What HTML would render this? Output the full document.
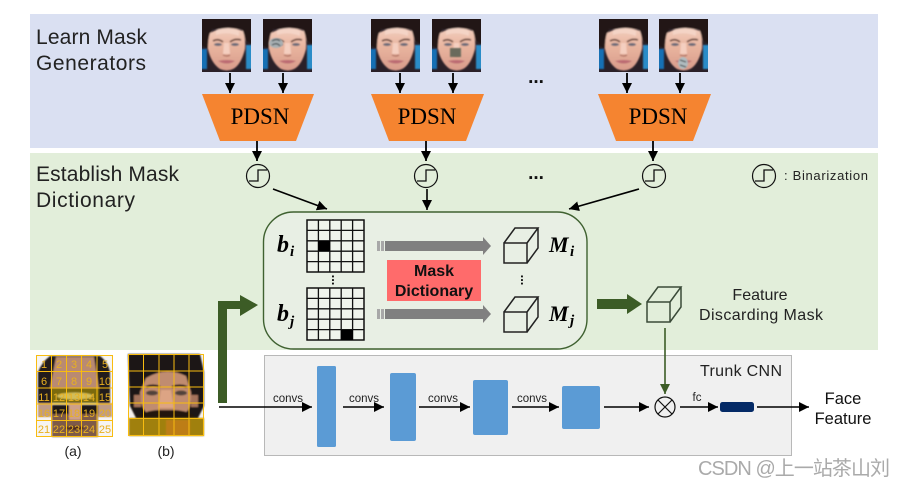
<!DOCTYPE html>
<html><head><meta charset="utf-8">
<style>
html,body{margin:0;padding:0;background:#fff;width:904px;height:487px;overflow:hidden}
svg{display:block}
text{font-family:"Liberation Sans",sans-serif}
.s{font-family:"Liberation Serif",serif}
</style></head><body>
<svg width="904" height="487" viewBox="0 0 904 487" xmlns="http://www.w3.org/2000/svg">
<defs>
<filter id="b1" x="-10%" y="-10%" width="120%" height="120%"><feGaussianBlur stdDeviation="0.9"/></filter>
<clipPath id="fc"><rect width="49" height="53"/></clipPath>
<linearGradient id="skin" x1="0" y1="0" x2="0" y2="1"><stop offset="0" stop-color="#f2cdbd"/><stop offset=".45" stop-color="#e8b49e"/><stop offset="1" stop-color="#d89a8a"/></linearGradient>
<marker id="ah" markerUnits="userSpaceOnUse" markerWidth="12" markerHeight="12" refX="10" refY="5" orient="auto"><path d="M0 0L10 5L0 10Z" fill="#000"/></marker>
<marker id="ag" markerUnits="userSpaceOnUse" markerWidth="12" markerHeight="12" refX="10" refY="5" orient="auto"><path d="M0 0L10 5L0 10Z" fill="#3c5c26"/></marker>
<symbol id="face" width="49" height="53" viewBox="0 0 49 53" overflow="hidden">
<g clip-path="url(#fc)">
<rect width="49" height="53" fill="#2a2028"/>
<g filter="url(#b1)">
<rect x="-2" y="30" width="7" height="20" fill="#1670b4"/>
<rect x="44" y="26" width="7" height="24" fill="#2a8cc8"/>
<path d="M-2 -2H51V26L44 22L40 10H10L6 30L-2 26Z" fill="#221816"/>
<path d="M8 14Q24 5 41 12Q44 20 43 30Q39 46 31 50Q25 53 18 50Q9 44 6 30Q6 20 8 14Z" fill="url(#skin)"/>
<path d="M14 11Q26 7 37 12L37 17Q25 12 14 16Z" fill="#f4d4c6"/>
<path d="M11 22Q16 19 21 23M28 23Q33 19 39 21" stroke="#6a463c" stroke-width="1.7" fill="none"/>
<ellipse cx="16" cy="25.5" rx="4" ry="1.5" fill="#6a6a78"/>
<ellipse cx="33" cy="25.5" rx="4" ry="1.5" fill="#6a6a78"/>
<path d="M22 24L21 35H28L27 24Z" fill="#f4cfc0"/>
<path d="M21 36Q25 38 28 36" stroke="#a86a5c" stroke-width="1.2" fill="none"/>
<path d="M16 42Q25 40 33 42Q25 47 16 42Z" fill="#bb6a72"/>
</g>
</g>
</symbol>
<g id="cube" fill="none" stroke-width="1.5">
<path d="M0 15H23V35H0ZM0 15L11 0H34L23 15M34 0V20L23 35"/>
</g>
<g id="bin">
<circle r="11.5" fill="none" stroke="#111" stroke-width="1.2"/>
<path d="M-9 5H0V-6H9" fill="none" stroke="#111" stroke-width="1.3"/>
</g>
<g id="grid" fill="none" stroke="#111" stroke-width="1.3">
<rect width="57" height="52" fill="#f0f4ec"/>
<path d="M11.4 0V52M22.8 0V52M34.2 0V52M45.6 0V52M0 10.4H57M0 20.8H57M0 31.2H57M0 41.6H57"/>
<rect width="57" height="52"/>
</g>
<g id="garrow">
<rect x="0" y="-5" width="3" height="10" fill="#a8a8a8"/>
<rect x="4" y="-5" width="3" height="10" fill="#a8a8a8"/>
<rect x="8" y="-5" width="98" height="10" fill="#808080"/>
<path d="M106 -9L114 0L106 9Z" fill="#808080"/>
</g>
</defs>

<rect x="30" y="14" width="848" height="134" fill="#dae0f2"/>
<rect x="30" y="153" width="848" height="197" fill="#e2eeda"/>

<text x="36" y="44" font-size="21" fill="#222" textLength="111">Learn Mask</text>
<text x="36" y="70" font-size="21" fill="#222" textLength="110">Generators</text>
<text x="36" y="181" font-size="21" fill="#222" textLength="143">Establish Mask</text>
<text x="36" y="207" font-size="21" fill="#222" textLength="99">Dictionary</text>

<use href="#face" x="202" y="19"/>
<use href="#face" x="263" y="19"/>
<use href="#face" x="371" y="19"/>
<use href="#face" x="432" y="19"/>
<use href="#face" x="599" y="19"/>
<use href="#face" x="659" y="19"/>
<g filter="url(#b1)">
<ellipse cx="276" cy="43" rx="7" ry="5" fill="#a8b0b4"/>
<path d="M272 41Q277 38 280 41M272 45Q277 42 280 46" stroke="#3a4448" stroke-width="1.2" fill="none"/>
<rect x="450" y="48" width="11" height="9" fill="#6a6a5c"/>
<ellipse cx="683" cy="63" rx="5" ry="6" fill="#b0bcc0"/>
<path d="M680 60L686 62M680 65L686 67" stroke="#333" stroke-width="1.1"/>
</g>

<g stroke="#000" stroke-width="1.8" marker-end="url(#ah)">
<line x1="230" y1="73" x2="230" y2="93"/>
<line x1="283" y1="73" x2="283" y2="93"/>
<line x1="400" y1="73" x2="400" y2="93"/>
<line x1="453" y1="73" x2="453" y2="93"/>
<line x1="627" y1="73" x2="627" y2="93"/>
<line x1="680" y1="73" x2="680" y2="93"/>
</g>

<path d="M202 94H314L296 141H220Z" fill="#f58430"/>
<path d="M371 94H484L466 141H389Z" fill="#f58430"/>
<path d="M598 94H711L693 141H616Z" fill="#f58430"/>
<text class="s" x="260" y="124" font-size="23" text-anchor="middle" fill="#000">PDSN</text>
<text class="s" x="427" y="124" font-size="23" text-anchor="middle" fill="#000">PDSN</text>
<text class="s" x="658" y="124" font-size="23" text-anchor="middle" fill="#000">PDSN</text>

<text x="536" y="83" font-size="19" font-weight="bold" text-anchor="middle" fill="#111">...</text>
<text x="536" y="179" font-size="19" font-weight="bold" text-anchor="middle" fill="#111">...</text>

<g stroke="#000" stroke-width="1.8" marker-end="url(#ah)">
<line x1="257" y1="141" x2="257" y2="161"/>
<line x1="426" y1="141" x2="426" y2="161"/>
<line x1="653" y1="141" x2="653" y2="161"/>
</g>

<use href="#bin" x="258" y="176"/>
<use href="#bin" x="426" y="176"/>
<use href="#bin" x="654" y="176"/>
<use href="#bin" x="764" y="176"/>
<text x="784" y="180" font-size="13" fill="#222" textLength="84">: Binarization</text>

<g stroke="#000" stroke-width="1.6" marker-end="url(#ah)">
<line x1="273" y1="189" x2="327" y2="209"/>
<line x1="427" y1="189" x2="427" y2="210"/>
<line x1="639" y1="189" x2="569" y2="209"/>
</g>

<rect x="263.5" y="212" width="323.5" height="137" rx="30" fill="#e8efe4" stroke="#3f6130" stroke-width="1.4"/>
<use href="#grid" x="307" y="220"/>
<rect x="318" y="241" width="12" height="10" fill="#000"/>
<use href="#grid" x="307" y="288"/>
<rect x="341" y="330" width="12" height="10" fill="#000"/>
<text x="335" y="283" font-size="13" font-weight="bold" text-anchor="middle" fill="#111" transform="rotate(90 335 280)">...</text>
<text x="524" y="283" font-size="13" font-weight="bold" text-anchor="middle" fill="#111" transform="rotate(90 524 280)">...</text>
<use href="#garrow" x="377" y="246"/>
<use href="#garrow" x="377" y="314"/>
<rect x="387" y="260" width="94" height="41" fill="#ff6b6b"/>
<text x="434" y="276" font-size="16" font-weight="bold" text-anchor="middle" fill="#111">Mask</text>
<text x="434" y="296" font-size="16" font-weight="bold" text-anchor="middle" fill="#111">Dictionary</text>
<use href="#cube" x="504" y="228" stroke="#222"/>
<use href="#cube" x="504" y="297" stroke="#222"/>
<g font-weight="bold" font-style="italic" fill="#000">
<text x="277" y="252" font-size="24" style="font-family:'Liberation Serif',serif">b</text>
<text x="290" y="256" font-size="15" style="font-family:'Liberation Serif',serif">i</text>
<text x="277" y="321" font-size="24" style="font-family:'Liberation Serif',serif">b</text>
<text x="290" y="326" font-size="15" style="font-family:'Liberation Serif',serif">j</text>
<text x="549" y="252" font-size="22" style="font-family:'Liberation Serif',serif">M</text>
<text x="570" y="256" font-size="15" style="font-family:'Liberation Serif',serif">i</text>
<text x="549" y="321" font-size="22" style="font-family:'Liberation Serif',serif">M</text>
<text x="570" y="325" font-size="15" style="font-family:'Liberation Serif',serif">j</text>
</g>

<path d="M597 299H627V294L642 304L627 314V309H597Z" fill="#3c5c26"/>
<use href="#cube" x="647" y="287" stroke="#3a4a38"/>
<text x="760" y="300" font-size="16" text-anchor="middle" fill="#222">Feature</text>
<text x="761" y="320" font-size="16" text-anchor="middle" fill="#222" textLength="124">Discarding Mask</text>

<rect x="264.5" y="355.5" width="527" height="100" fill="#f0f0f0" stroke="#b8b8b8" stroke-width="1"/>
<text x="700" y="376" font-size="16" fill="#222" textLength="82">Trunk CNN</text>
<path d="M218 403V301H240V295L258 305L240 316V309H227V403Z" fill="#3c5c26"/>

<rect x="317" y="366" width="19" height="81" rx="1.5" fill="#5b9bd5"/>
<rect x="390" y="373" width="26" height="68" rx="2" fill="#5b9bd5"/>
<rect x="473" y="380" width="35" height="55" rx="2" fill="#5b9bd5"/>
<rect x="562" y="386" width="38" height="43" rx="2" fill="#5b9bd5"/>
<g stroke="#000" stroke-width="1.5" marker-end="url(#ah)">
<line x1="219" y1="407" x2="312" y2="407"/>
<line x1="343" y1="407" x2="384" y2="407"/>
<line x1="419" y1="407" x2="470" y2="407"/>
<line x1="512" y1="407" x2="559" y2="407"/>
<line x1="604" y1="407" x2="649" y2="407"/>
<line x1="680" y1="407" x2="718" y2="407"/>
<line x1="757" y1="407" x2="809" y2="407"/>
</g>
<g font-size="11.5" fill="#222" text-anchor="middle">
<text x="288" y="402">convs</text>
<text x="364" y="402">convs</text>
<text x="443" y="402">convs</text>
<text x="532" y="402">convs</text>
<text x="697" y="401">fc</text>
</g>
<line x1="665" y1="328" x2="665" y2="394" stroke="#3c5c26" stroke-width="1.6" marker-end="url(#ag)"/>
<circle cx="665" cy="407" r="10" fill="none" stroke="#111" stroke-width="1.2"/>
<path d="M658 400L672 414M672 400L658 414" stroke="#111" stroke-width="1.2"/>
<rect x="720" y="402" width="34" height="10" rx="2.5" fill="#042a66"/>
<text x="843" y="404" font-size="16.5" text-anchor="middle" fill="#111">Face</text>
<text x="843" y="424" font-size="16.5" text-anchor="middle" fill="#111">Feature</text>

<!-- image a -->
<rect x="36" y="355" width="77" height="82" fill="#f6f4f2"/>
<g filter="url(#b1)">
<path d="M52 406H98V437H52Z" fill="#7e5a46"/>
<path d="M50 356H100Q108 362 110 372V403H38V372Q42 362 50 356Z" fill="#241d1a"/>
<path d="M56 357H94L99 388H50Z" fill="#b98a72"/>
<rect x="51" y="388" width="48" height="15" fill="#7c6a0a"/>
<ellipse cx="75" cy="396" rx="18" ry="3.5" fill="#d2bd5a"/>
<rect x="38" y="403" width="14" height="14" fill="#c09c86"/>
<rect x="98" y="403" width="14" height="14" fill="#c09c86"/>
<rect x="52" y="405" width="46" height="9" fill="#1e1612"/>
<path d="M69 403V420H81V403Z" fill="#cfa088"/>
<path d="M64 428Q75 424 86 428Q75 432 64 428Z" fill="#46281f"/>
</g>
<g stroke="#f8bc10" stroke-width="1" fill="none">
<rect x="36.5" y="355.5" width="76" height="81"/>
<path d="M51.5 355V437M66.5 355V437M81.5 355V437M97 355V437M36 371.5H113M36 388H113M36 404H113M36 420.5H113"/>
</g>
<g font-size="11" fill="#e8b020" text-anchor="middle">
<text x="44" y="368">1</text><text x="59" y="368">2</text><text x="74" y="368">3</text><text x="89" y="368">4</text><text x="105" y="368">5</text>
<text x="44" y="385">6</text><text x="59" y="385">7</text><text x="74" y="385">8</text><text x="89" y="385">9</text><text x="105" y="385">10</text>
<text x="44" y="401">11</text><text x="59" y="401">12</text><text x="74" y="401">13</text><text x="89" y="401">14</text><text x="105" y="401">15</text>
<text x="44" y="417">16</text><text x="59" y="417">17</text><text x="74" y="417">18</text><text x="89" y="417">19</text><text x="105" y="417">20</text>
<text x="44" y="433">21</text><text x="59" y="433">22</text><text x="74" y="433">23</text><text x="89" y="433">24</text><text x="105" y="433">25</text>
</g>

<!-- image b -->
<rect x="128" y="354" width="76" height="82" fill="#f6f2ee"/>
<g filter="url(#b1)">
<path d="M128 354H200L204 372V406L198 418H136L130 406Z" fill="#1e1614"/>
<path d="M146 378Q166 366 186 376L191 392Q192 408 186 412H146Q140 406 140 392Z" fill="#c08c70"/>
<path d="M146 387Q153 384 160 387M172 387Q180 384 187 387" stroke="#2a1c14" stroke-width="2.2" fill="none"/>
<ellipse cx="152" cy="393" rx="6" ry="2.5" fill="#51423a"/>
<ellipse cx="181" cy="393" rx="6" ry="2.5" fill="#51423a"/>
<rect x="134" y="395" width="7" height="12" fill="#a4735c"/>
<rect x="191" y="395" width="7" height="12" fill="#a4735c"/>
<path d="M161 390L158 408H174L171 390Z" fill="#dca484"/>
<path d="M138 415Q150 410 158 410H174Q184 410 194 415V419H138Z" fill="#201410"/>
<rect x="129" y="418" width="75" height="18" fill="#a0800c"/>
<rect x="166" y="420" width="24" height="15" fill="#bd7d14"/>
</g>
<g stroke="#f8bc10" stroke-width="1" fill="none">
<rect x="128.5" y="354.5" width="75" height="81"/>
<path d="M143.5 354V436M159 354V436M174 354V436M189 354V436M128 371H204M128 387H204M128 403H204M128 418.5H204"/>
</g>

<text x="73" y="456" font-size="14" text-anchor="middle" fill="#222">(a)</text>
<text x="166" y="456" font-size="14" text-anchor="middle" fill="#222">(b)</text>

<text x="698" y="475" font-size="20" fill="#aaaaaa" textLength="192" style="font-family:'Liberation Sans','Noto Sans CJK SC',sans-serif">CSDN @上一站茶山刘</text>
</svg>
</body></html>
